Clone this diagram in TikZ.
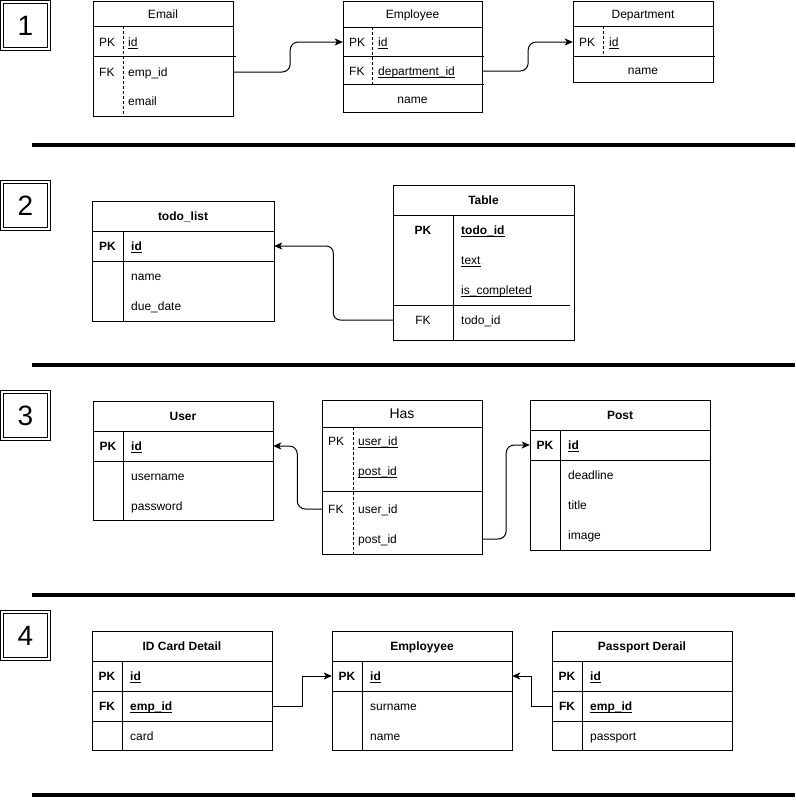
\documentclass[tikz,border=0pt]{standalone}
\usepackage{fontspec}
\setmainfont{Liberation Sans}
\usetikzlibrary{arrows.meta}
\newcommand\ulin[1]{\leavevmode\setbox0\hbox{#1}\rlap{\rule[-2.2pt]{\wd0}{0.8pt}}\box0}
\tikzset{
  tb/.style={draw, line width=1pt},
  ln/.style={line width=1pt},
  dl/.style={line width=1pt, dash pattern=on 3pt off 2pt},
  lt/.style={font=\fontsize{12pt}{14pt}\selectfont, inner sep=0pt, anchor=west, text height=8.6pt, text depth=0pt},
  ct/.style={font=\fontsize{12pt}{14pt}\selectfont, inner sep=0pt, text height=8.6pt, text depth=0pt},
  blt/.style={lt, font=\fontsize{12pt}{14pt}\selectfont\bfseries},
  bct/.style={ct, font=\fontsize{12pt}{14pt}\selectfont\bfseries},
  num/.style={font=\fontsize{28pt}{30pt}\selectfont, inner sep=0pt, text height=20pt, text depth=0pt},
  ra/.style={minimum height=30pt, inner sep=0pt, draw=none},
  conn/.style={line width=1pt, -{Stealth[length=8pt, width=7pt, inset=2pt]}},
  sepline/.style={line width=4.5pt},
}
\begin{document}
\begin{tikzpicture}[x=1pt, y=-1pt]
\useasboundingbox (0,0) rectangle (795,803);

% ---------- number boxes ----------
\draw[ln] (0.5,0.5) rectangle (50.5,50.5); \draw[ln] (3.5,3.5) rectangle (47.5,47.5);
\node[num] (n1) at (25.5,25.5) {1};
\draw[ln] (0.5,180.5) rectangle (50.5,230.5); \draw[ln] (3.5,183.5) rectangle (47.5,227.5);
\node[num] (n2) at (25.5,205.5) {2};
\draw[ln] (0.5,390.5) rectangle (50.5,440.5); \draw[ln] (3.5,393.5) rectangle (47.5,437.5);
\node[num] (n3) at (25.5,415.5) {3};
\draw[ln] (0.5,610.5) rectangle (50.5,660.5); \draw[ln] (3.5,613.5) rectangle (47.5,657.5);
\node[num] (n4) at (25.5,635.5) {4};

% ---------- separators ----------
\draw[sepline] (32,145) -- (795,145);
\draw[sepline] (32,365) -- (795,365);
\draw[sepline] (32,595) -- (795,595);
\draw[sepline] (32,795) -- (795,795);

% ================= Section 1 =================
% Email
\draw[tb] (93,1) rectangle (233,116);
\draw[ln] (93,26) -- (233,26);
\draw[ln] (93,56) -- (236,56);
\draw[dl] (123,26) -- (123,116);
\node[ct] (emailH) at (163,14) {Email};
\node[lt] (emailPKl) at (99,42) {PK};
\node[lt] (emailPKv) at (128,42) {\ulin{id}};
\node[lt] (emailFKl) at (99,72) {FK};
\node[lt] (emailFKv) at (128,72) {emp\_id};
\node[lt] (emailMail) at (128,101) {email};
\node[ra, minimum width=140pt] (emailFK) at (163,72) {};

% Employee
\draw[tb] (343,1) rectangle (482,112);
\draw[ln] (343,27) -- (482,27);
\draw[ln] (343,56) -- (484,56);
\draw[ln] (343,84) -- (484,84);
\draw[dl] (372,27) -- (372,84);
\node[ct] (empH) at (412.5,14) {Employee};
\node[lt] (empPKl) at (349,42) {PK};
\node[lt] (empPKv) at (378,42) {\ulin{id}};
\node[lt] (empFKl) at (349,71) {FK};
\node[lt] (empFKv) at (378,71) {\ulin{department\_id}};
\node[ct] (empName) at (412.5,99) {name};
\node[ra, minimum width=139pt] (empPK) at (412.5,42) {};
\node[ra, minimum width=139pt] (empFK) at (412.5,71) {};

% Department
\draw[tb] (573,1) rectangle (713,82);
\draw[ln] (573,26) -- (713,26);
\draw[ln] (573,56) -- (715,56);
\draw[dl] (603,26) -- (603,56);
\node[ct] (depH) at (643,14) {Department};
\node[lt] (depPKl) at (579,42) {PK};
\node[lt] (depPKv) at (609,42) {\ulin{id}};
\node[ct] (depName) at (643,70) {name};
\node[ra, minimum width=140pt] (depPK) at (643,42) {};

\draw[conn, rounded corners=8pt] (emailFK.east) -- ++(57,0) |- (empPK.west);
\draw[conn, rounded corners=8pt] (empFK.east) -- ++(46,0) |- (depPK.west);

% ================= Section 2 =================
% todo_list
\draw[tb] (92,201) rectangle (274,321);
\draw[ln] (92,231) -- (274,231);
\draw[ln] (92,261) -- (274,261);
\draw[ln] (123,231) -- (123,321);
\node[bct] (todoH) at (183,216) {todo\_list};
\node[bct] (todoPKl) at (107.5,246) {PK};
\node[blt] (todoPKv) at (131,246) {\ulin{id}};
\node[lt] (todoName) at (131,276) {name};
\node[lt] (todoDue) at (131,306) {due\_date};
\node[ra, minimum width=182pt] (todoPK) at (183,246) {};

% Table
\draw[tb] (393,185) rectangle (574,340);
\draw[ln] (393,215) -- (574,215);
\draw[ln] (393,305) -- (570,305);
\draw[ln] (453,215) -- (453,340);
\node[bct] (tabH) at (483.5,200) {Table};
\node[bct] (tabPKl) at (423,230) {PK};
\node[blt] (tabPKv) at (461,230) {\ulin{todo\_id}};
\node[lt] (tabText) at (461,260) {\ulin{text}};
\node[lt] (tabComp) at (461,290) {\ulin{is\_completed}};
\node[ct] (tabFKl) at (423,320) {FK};
\node[lt] (tabFKv) at (461,320) {todo\_id};
\node[ra, minimum width=181pt] (tabFK) at (483.5,320) {};

\draw[conn, rounded corners=7pt] (tabFK.west) -- ++(-59.5,0) |- (todoPK.east);

% ================= Section 3 =================
% User
\draw[tb] (93,401) rectangle (273,520);
\draw[ln] (93,431) -- (273,431);
\draw[ln] (93,461) -- (273,461);
\draw[ln] (123,431) -- (123,520);
\node[bct] (userH) at (183,416) {User};
\node[bct] (userPKl) at (108,446) {PK};
\node[blt] (userPKv) at (131,446) {\ulin{id}};
\node[lt] (userName) at (131,476) {username};
\node[lt] (userPass) at (131,506) {password};
\node[ra, minimum width=180pt] (userPK) at (183,446) {};

% Has
\draw[tb] (322,400) rectangle (482,554);
\draw[ln] (322,427) -- (482,427);
\draw[ln] (322,491) -- (482,491);
\draw[dl] (353,427) -- (353,554);
\node[ct, font=\fontsize{14pt}{16pt}\selectfont, text height=10pt] (hasH) at (402,413) {Has};
\node[lt] (hasPKl) at (328,441) {PK};
\node[lt] (hasPKu) at (358,441) {\ulin{user\_id}};
\node[lt] (hasPKp) at (358,471) {\ulin{post\_id}};
\node[lt] (hasFKl) at (328,509) {FK};
\node[lt] (hasFKu) at (358,509) {user\_id};
\node[lt] (hasFKp) at (358,539) {post\_id};
\node[ra, minimum width=160pt] (hasUser) at (402,509) {};
\node[ra, minimum width=160pt] (hasPost) at (402,539) {};

% Post
\draw[tb] (530,400) rectangle (710,550);
\draw[ln] (530,430) -- (710,430);
\draw[ln] (530,460) -- (710,460);
\draw[ln] (560,430) -- (560,550);
\node[bct] (postH) at (620,415) {Post};
\node[bct] (postPKl) at (545,445) {PK};
\node[blt] (postPKv) at (568,445) {\ulin{id}};
\node[lt] (postDead) at (568,475) {deadline};
\node[lt] (postTitle) at (568,505) {title};
\node[lt] (postImg) at (568,535) {image};
\node[ra, minimum width=180pt] (postPK) at (620,445) {};

\draw[conn, rounded corners=8pt] (hasUser.west) -- ++(-24.5,0) |- (userPK.east);
\draw[conn, rounded corners=8pt] (hasPost.east) -- ++(24,0) |- (postPK.west);

% ================= Section 4 =================
% ID Card Detail
\draw[tb] (92,631) rectangle (272,750);
\draw[ln] (92,661) -- (272,661);
\draw[ln] (92,691) -- (272,691);
\draw[ln] (92,721) -- (272,721);
\draw[ln] (122,661) -- (122,750);
\node[bct] (idH) at (182,646) {ID Card Detail};
\node[bct] (idPKl) at (107,676) {PK};
\node[blt] (idPKv) at (130,676) {\ulin{id}};
\node[bct] (idFKl) at (107,706) {FK};
\node[blt] (idFKv) at (130,706) {\ulin{emp\_id}};
\node[lt] (idCard) at (130,736) {card};
\node[ra, minimum width=180pt] (idFK) at (182,706) {};

% Employyee
\draw[tb] (332,631) rectangle (512,750);
\draw[ln] (332,661) -- (512,661);
\draw[ln] (332,691) -- (512,691);
\draw[ln] (362,661) -- (362,750);
\node[bct] (eyH) at (422,646) {Employyee};
\node[bct] (eyPKl) at (347,676) {PK};
\node[blt] (eyPKv) at (370,676) {\ulin{id}};
\node[lt] (eySur) at (370,706) {surname};
\node[lt] (eyName) at (370,736) {name};
\node[ra, minimum width=180pt] (eyPK) at (422,676) {};

% Passport Derail
\draw[tb] (552,631) rectangle (732,750);
\draw[ln] (552,661) -- (732,661);
\draw[ln] (552,691) -- (732,691);
\draw[ln] (552,721) -- (732,721);
\draw[ln] (582,661) -- (582,750);
\node[bct] (psH) at (642,646) {Passport Derail};
\node[bct] (psPKl) at (567,676) {PK};
\node[blt] (psPKv) at (590,676) {\ulin{id}};
\node[bct] (psFKl) at (567,706) {FK};
\node[blt] (psFKv) at (590,706) {\ulin{emp\_id}};
\node[lt] (psPass) at (590,736) {passport};
\node[ra, minimum width=180pt] (psFK) at (642,706) {};

\draw[conn] (idFK.east) -- ++(30,0) |- (eyPK.west);
\draw[conn] (psFK.west) -- ++(-20,0) |- (eyPK.east);

\end{tikzpicture}
\end{document}
